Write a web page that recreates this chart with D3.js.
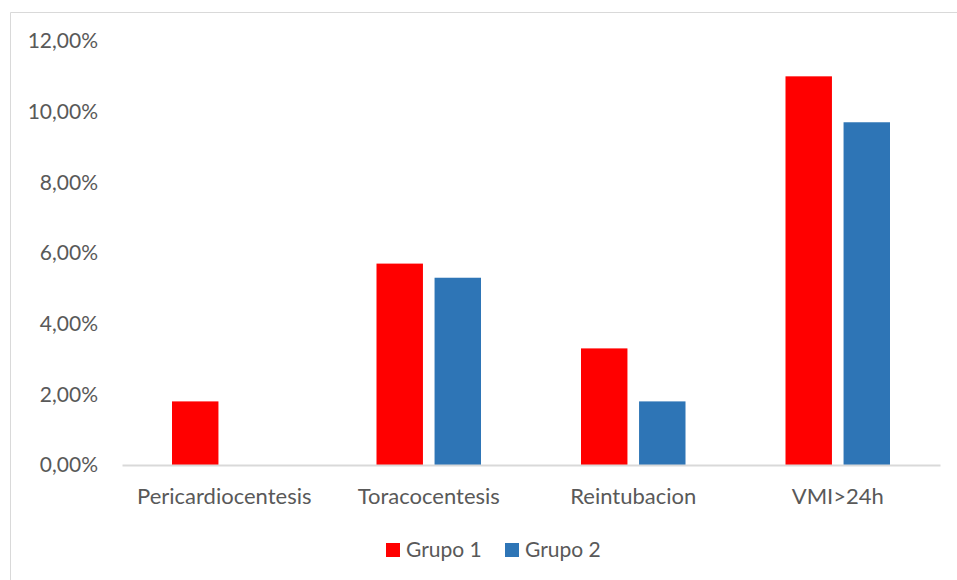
<!DOCTYPE html>
<html>
<head>
<meta charset="utf-8">
<script src="https://cdn.jsdelivr.net/npm/d3@7"></script>
<style>
  html, body { margin: 0; padding: 0; background: #fff; }
  svg { display: block; }
  text { font-family: Lato, "Open Sans", sans-serif; fill: #595959; }
</style>
</head>
<body>
<svg id="chart" width="957" height="580"></svg>
<script>
const categories = ["Pericardiocentesis", "Toracocentesis", "Reintubacion", "VMI>24h"];
const seriesNames = ["Grupo 1", "Grupo 2"];
const grupo1 = [0.018, 0.057, 0.033, 0.110];
const grupo2 = [0.000, 0.053, 0.018, 0.097];
const yTicks = [0, 0.02, 0.04, 0.06, 0.08, 0.10, 0.12];
const colors = ["#FF0000", "#2E75B6"];

(function () {
const svg = d3.select("#chart");
const W = 957, H = 580;
const mLeft = 122, mRight = 940, mTop = 41, mBottom = 465;

// chart frame
svg.append("path")
  .attr("d", `M10.5,${H} V12.5 H${W}`)
  .attr("fill", "none").attr("stroke", "#D9D9D9").attr("stroke-width", 1);

const x0 = d3.scaleBand().domain(categories).range([mLeft, mRight]).paddingInner(0).paddingOuter(0);
const x1 = d3.scaleBand().domain(seriesNames).range([50, x0.bandwidth() - 50]).paddingInner(0.2);
const y = d3.scaleLinear().domain([0, 0.12]).range([mBottom, mTop]);

const locale = d3.formatLocale({decimal: ",", thousands: ".", grouping: [3], currency: ["", "€"]});
const fmt = locale.format(".2%");

// y axis labels
const yAxis = d3.axisLeft(y).tickValues(yTicks).tickFormat(fmt).tickSize(0).tickPadding(0);
const gy = svg.append("g").attr("transform", `translate(98,0)`).call(yAxis);
gy.select(".domain").remove();
gy.selectAll("text").attr("font-size", 21).style("font-family", "Lato").attr("fill", "#595959");

// bars
const data = categories.map((c, i) => ({cat: c, vals: [grupo1[i], grupo2[i]]}));
const groups = svg.append("g").selectAll("g").data(data).join("g")
  .attr("transform", d => `translate(${x0(d.cat)},0)`);
groups.selectAll("rect").data(d => d.vals.map((v, j) => ({s: seriesNames[j], v, j})))
  .join("rect")
  .attr("x", d => x1(d.s))
  .attr("width", x1.bandwidth())
  .attr("y", d => y(d.v))
  .attr("height", d => y(0) - y(d.v))
  .attr("fill", d => colors[d.j]);

// x axis
const xAxis = d3.axisBottom(x0).tickSize(0).tickPadding(0);
const gx = svg.append("g").attr("transform", `translate(0,${mBottom})`).call(xAxis);
gx.select(".domain").attr("stroke", "#D9D9D9").attr("stroke-width", 2);
gx.selectAll("text").attr("font-size", 22).style("font-family", "Lato").attr("fill", "#595959")
  .attr("dy", null).attr("y", 39);

// legend
const legendItems = [
  {name: seriesNames[0], color: colors[0], x: 386},
  {name: seriesNames[1], color: colors[1], x: 505}
];
const lg = svg.append("g");
legendItems.forEach(it => {
  lg.append("rect").attr("x", it.x).attr("y", 543).attr("width", 14).attr("height", 14).attr("fill", it.color);
  lg.append("text").attr("x", it.x + 20).attr("y", 557).attr("font-size", 21).text(it.name);
});
})();
</script>
</body>
</html>
